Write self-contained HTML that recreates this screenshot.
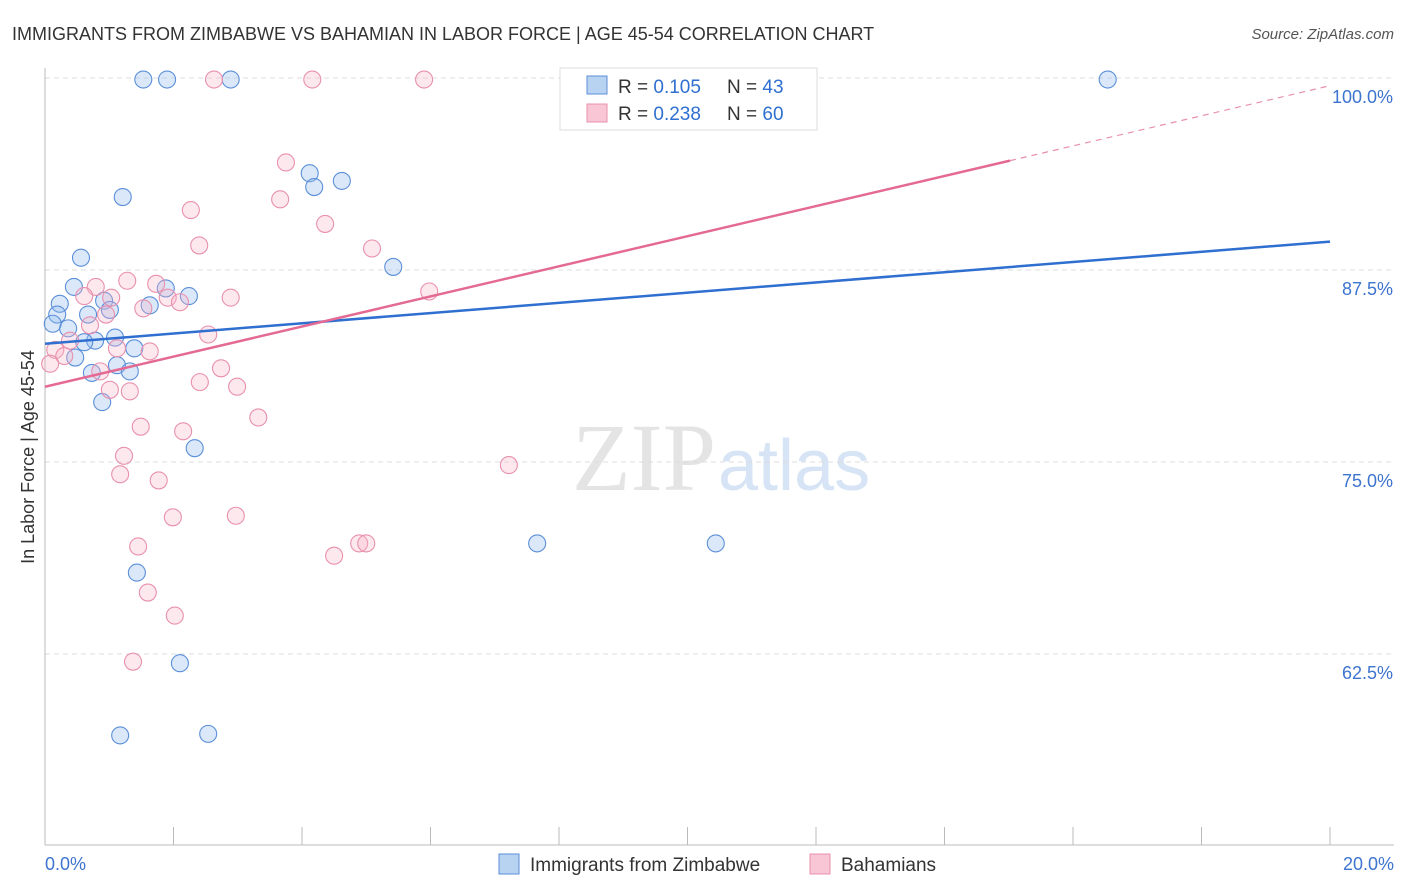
<!DOCTYPE html>
<html><head><meta charset="utf-8"><style>
body{margin:0;background:#fff;font-family:"Liberation Sans",sans-serif;}
#c{position:absolute;left:0;top:0}
</style></head><body>
<svg id="c" width="1406" height="892">
<text x="12" y="40" font-size="18" fill="#333">IMMIGRANTS FROM ZIMBABWE VS BAHAMIAN IN LABOR FORCE | AGE 45-54 CORRELATION CHART</text>
<text x="1394" y="39" font-size="15" fill="#555" text-anchor="end" font-style="italic">Source: ZipAtlas.com</text>
<text x="716" y="490" font-size="96" fill="#e4e4e4" text-anchor="end" font-family="Liberation Serif">ZIP</text>
<text x="718" y="490" font-size="72" fill="#d6e4f5">atlas</text>
<text transform="translate(34,457) rotate(-90)" font-size="18" fill="#333" text-anchor="middle">In Labor Force | Age 45-54</text>
<g id="grid"></g><g id="pts"></g><g id="lines"></g>
<g>
<rect x="560" y="68" width="257" height="62" fill="#fff" stroke="#ddd"/>
<rect x="587" y="76" width="20" height="18" fill="#b8d2f2" stroke="#5b8fd8"/>
<text x="618" y="93" font-size="19" fill="#333">R = <tspan fill="#2f6fd0">0.105</tspan></text>
<text x="727" y="93" font-size="19" fill="#333">N = <tspan fill="#2f6fd0">43</tspan></text>
<rect x="587" y="104" width="20" height="18" fill="#f9c6d6" stroke="#e890ae"/>
<text x="618" y="120" font-size="19" fill="#333">R = <tspan fill="#2f6fd0">0.238</tspan></text>
<text x="727" y="120" font-size="19" fill="#333">N = <tspan fill="#2f6fd0">60</tspan></text>
</g>
<g>
<rect x="499" y="854" width="20" height="20" fill="#b8d2f2" stroke="#5b8fd8"/>
<text x="530" y="871" font-size="19" fill="#333">Immigrants from Zimbabwe</text>
<rect x="810" y="854" width="20" height="20" fill="#f9c6d6" stroke="#e890ae"/>
<text x="841" y="871" font-size="19" fill="#333">Bahamians</text>
</g>
</svg>
<script>
const blueX=[1.53,1.90,2.89,16.54,1.21,4.12,4.19,4.62,0.56,5.42,0.45,0.23,1.88,2.24,1.63,0.92,1.01,0.19,0.67,0.12,0.36,1.09,0.78,0.61,1.39,0.47,1.12,0.73,1.32,0.89,2.33,7.66,10.44,1.43,2.10,1.17,2.54];
const blueY=[99.9,99.9,99.9,99.9,92.25,93.8,92.9,93.3,88.3,87.7,86.4,85.3,86.3,85.8,85.2,85.5,84.9,84.6,84.6,84.0,83.7,83.1,82.9,82.8,82.4,81.8,81.3,80.8,80.9,78.9,75.9,69.7,69.7,67.8,61.9,57.2,57.3];
const pinkX=[2.63,4.16,5.90,10.74,3.75,3.66,2.27,4.36,2.40,5.09,5.98,1.28,1.73,0.79,0.61,1.03,1.91,2.89,2.10,1.53,0.95,0.70,2.54,0.39,1.12,1.63,0.16,0.30,0.08,2.74,0.86,2.41,2.99,1.01,1.32,3.32,1.49,2.15,1.23,1.17,1.77,7.22,1.99,2.97,1.45,4.89,5.0,4.50,1.60,2.02,1.37];
const pinkY=[99.9,99.9,99.9,99.9,94.5,92.1,91.4,90.5,89.1,88.9,86.1,86.8,86.6,86.4,85.8,85.7,85.7,85.7,85.4,85.0,84.6,83.9,83.3,82.9,82.4,82.2,82.3,81.9,81.4,81.1,80.9,80.2,79.9,79.7,79.6,77.9,77.3,77.0,75.4,74.2,73.8,74.8,71.4,71.5,69.5,69.7,69.7,68.9,66.5,65.0,62.0];
const yTicks=[100,87.5,75,62.5];
const xTickLabels=["0.0%","20.0%"];
const blueTrend=[82.7,89.35];
const pinkTrend=[79.9,99.5];
const pinkSolidEnd=15.02;
const NS="http://www.w3.org/2000/svg";
const X=v=>45+v/20*1285, Y=v=>78+(100-v)/12.5*192;
function mk(t,a,p){const e=document.createElementNS(NS,t);for(const k in a)e.setAttribute(k,a[k]);p.appendChild(e);return e;}
const g=document.getElementById('grid');
yTicks.forEach(t=>{
 const l=mk('line',{x1:45,x2:1394,y1:Y(t),y2:Y(t),stroke:'#ddd','stroke-dasharray':'5,4'},g);
 
 
 const tx=mk('text',{x:1393,y:Y(t)+25,'font-size':18,fill:'#3d74cf','text-anchor':'end'},g);tx.textContent=(t===100?'100.0':t.toFixed(1))+'%';
 
 
});
mk('line',{x1:45,x2:45,y1:68,y2:845,stroke:'#bbb'},g);
mk('line',{x1:45,x2:1394,y1:845,y2:845,stroke:'#bbb'},g);
for(let i=0;i<=10;i++){mk('line',{x1:X(i*2),x2:X(i*2),y1:827,y2:845,stroke:'#bbb'},g);}
xTickLabels.forEach((s,i)=>{const t=mk('text',{x:i?1394:45,y:870,'font-size':18,fill:'#3d74cf','text-anchor':i?'end':'start'},g);t.textContent=s;
 
 });
const p=document.getElementById('pts');
blueX.forEach((v,i)=>{const c=mk('circle',{cx:X(v),cy:Y(blueY[i]),r:8.5,fill:'rgba(150,190,240,0.35)',stroke:'#5b8fd8','stroke-width':1.1},p);
 
 });
pinkX.forEach((v,i)=>{const c=mk('circle',{cx:X(v),cy:Y(pinkY[i]),r:8.5,fill:'rgba(248,180,200,0.3)',stroke:'#e890ae','stroke-width':1.1},p);
 
 });
const L=document.getElementById('lines');
const bl=mk('line',{x1:X(0),y1:Y(blueTrend[0]),x2:X(20),y2:Y(blueTrend[1]),stroke:'#2f6fd0','stroke-width':2.5},L);


const py=x=>pinkTrend[0]+(pinkTrend[1]-pinkTrend[0])*x/20;
const pl=mk('line',{x1:X(0),y1:Y(py(0)),x2:X(pinkSolidEnd),y2:Y(py(pinkSolidEnd)),stroke:'#e46a93','stroke-width':2.5},L);


const pd=mk('line',{x1:X(pinkSolidEnd),y1:Y(py(pinkSolidEnd)),x2:X(20),y2:Y(py(20)),stroke:'#e890ae','stroke-width':1.2,'stroke-dasharray':'6,5'},L);


</script>
</body></html>
